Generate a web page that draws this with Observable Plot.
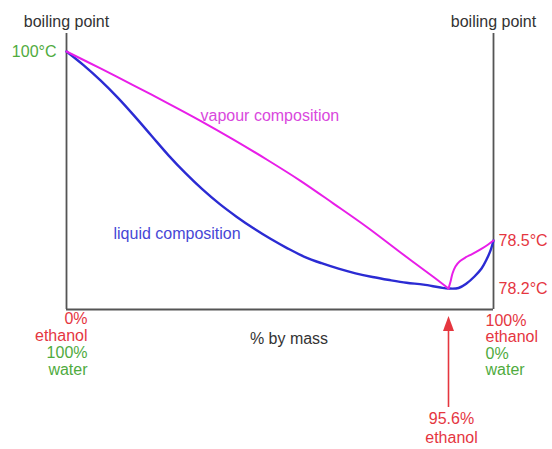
<!DOCTYPE html>
<html>
<head>
<meta charset="utf-8">
<script src="https://cdn.jsdelivr.net/npm/d3@7"></script>
<script src="https://cdn.jsdelivr.net/npm/@observablehq/plot@0.6"></script>
<style>
  html, body { margin: 0; padding: 0; background: #fff; }
  #chart svg { display: block; }
</style>
</head>
<body>
<div id="chart"></div>
<script>
// Schematic boiling-point diagram, ethanol / water (% ethanol by mass, °C)
const liquidPct  = [0, 4.25, 8.51, 12.76, 17.02, 21.27, 25.53, 29.78, 34.04, 38.29, 42.54, 46.80, 51.05, 55.31, 59.56, 63.82, 68.07, 72.33, 76.58, 80.83, 85.09, 89.34, 93.60, 95.6, 96.58, 97.36, 98.14, 98.83, 99.32, 99.71, 100];
const liquidTemp = [100, 98.45, 96.71, 94.78, 92.65, 90.42, 88.19, 86.16, 84.31, 82.66, 81.21, 79.89, 78.69, 78.451, 78.398, 78.358, 78.324, 78.295, 78.272, 78.253, 78.236, 78.224, 78.206, 78.2, 78.203, 78.231, 78.275, 78.325, 78.381, 78.438, 78.5];
const vapourPct  = [0, 8.51, 16.77, 25.28, 33.54, 41.79, 50.30, 58.56, 66.82, 75.33, 83.59, 91.85, 95.6, 95.80, 95.99, 96.28, 96.68, 97.26, 97.95, 98.73, 99.41, 100];
const vapourTemp = [100, 98.07, 96.15, 94.14, 92.12, 89.98, 87.66, 85.29, 82.70, 79.98, 78.425, 78.272, 78.2, 78.244, 78.294, 78.338, 78.369, 78.394, 78.416, 78.444, 78.472, 78.5];

const waterBoil = 100;      // °C at 0% ethanol
const ethanolBoil = 78.5;   // °C at 100% ethanol
const azeotropePct = 95.6;  // % ethanol
const azeotropeTemp = 78.2; // °C
const baseTemp = 78.0;      // schematic floor of the diagram

const xBreaks = [0, azeotropePct, 100];
const yBreaks = [baseTemp, azeotropeTemp, ethanolBoil, waterBoil];

const leftLabels  = ["0%", "ethanol", "100%", "water"];
const rightLabels = ["100%", "ethanol", "0%", "water"];
const azeotropeLabels = [azeotropePct + "%", "ethanol"];
const curveLabels = [
  {pct: 33.54, temp: 92.72, text: "vapour composition"},
  {pct: 11.76, temp: 79.30, text: "liquid composition"}
];

const liquid = liquidPct.map((p, i) => ({pct: p, temp: liquidTemp[i]}));
const vapour = vapourPct.map((p, i) => ({pct: p, temp: vapourTemp[i]}));
const cut = vapourPct.indexOf(azeotropePct);
const vapourLeft = vapour.slice(0, cut + 1);
const vapourRight = vapour.slice(cut);

const RED = "#e5363f", GREEN = "#4fab3e", GREY = "#333", AXIS = "#555";
const MAGENTA = "#e81ee8", BLUE = "#2b2bd3";

const tallTriangle = {
  draw(context, size) {
    const s = Math.sqrt(size / Math.PI);
    context.moveTo(0, -1.5 * s);
    context.lineTo(1.1 * s, 1.5 * s);
    context.lineTo(-1.1 * s, 1.5 * s);
    context.closePath();
  }
};

const marks = [
  Plot.ruleX([0, 100], {stroke: AXIS, strokeWidth: 1.8}),
  Plot.ruleY([baseTemp], {stroke: AXIS, strokeWidth: 2}),
  Plot.line(liquid, {x: "pct", y: "temp", stroke: BLUE, strokeWidth: 2.4, curve: "catmull-rom"}),
  Plot.line(vapourLeft, {x: "pct", y: "temp", stroke: MAGENTA, strokeWidth: 2, curve: "catmull-rom"}),
  Plot.line(vapourRight, {x: "pct", y: "temp", stroke: MAGENTA, strokeWidth: 2, curve: "catmull-rom"}),
  Plot.text([0, 100], {x: d => d, text: () => "boiling point", frameAnchor: "top", dy: -18, fill: GREY}),
  Plot.text([waterBoil], {x: () => 0, y: d => d, text: d => d + "°C", textAnchor: "end", dx: -10, fill: GREEN}),
  Plot.text([ethanolBoil, azeotropeTemp], {x: () => 100, y: d => d, text: d => d + "°C", textAnchor: "start", dx: 5, fill: RED}),
  Plot.text(curveLabels.slice(0, 1), {x: "pct", y: "temp", text: "text", textAnchor: "start", fill: "#d948dd"}),
  Plot.text(curveLabels.slice(1), {x: "pct", y: "temp", text: "text", textAnchor: "start", fill: "#4747d6"}),
  Plot.text(["% by mass"], {text: d => d, frameAnchor: "bottom", dx: 9, dy: 34, fill: GREY}),
  Plot.ruleX([azeotropePct], {x: d => d, stroke: RED, strokeWidth: 1.6, insetTop: 297, insetBottom: -98}),
  Plot.dot([azeotropePct], {x: d => d, frameAnchor: "bottom", dy: 14, r: 5, symbol: tallTriangle, fill: RED, stroke: "none"})
];
leftLabels.forEach((t, i) => marks.push(
  Plot.text([t], {x: () => 0, text: d => d, frameAnchor: "bottom", textAnchor: "end", dx: 21, dy: 14 + 17 * i, fill: i < 2 ? RED : GREEN})
));
rightLabels.forEach((t, i) => marks.push(
  Plot.text([t], {x: () => 100, text: d => d, frameAnchor: "bottom", textAnchor: "start", dx: -8, dy: 16 + 16.5 * i, fill: i < 2 ? RED : GREEN})
));
azeotropeLabels.forEach((t, i) => marks.push(
  Plot.text([t], {x: () => azeotropePct, text: d => d, frameAnchor: "bottom", dx: 3, dy: 114 + 19 * i, fill: RED})
));

const chart = Plot.plot({
  width: 552,
  height: 449,
  marginLeft: 66,
  marginRight: 59,
  marginTop: 33,
  marginBottom: 140,
  style: {fontFamily: "'Liberation Sans', Arial, Helvetica, sans-serif", fontSize: "16px", background: "#fff"},
  x: {type: "linear", domain: xBreaks, range: [66, 448, 493], axis: null},
  y: {type: "linear", domain: yBreaks, range: [309, 288, 240, 51], axis: null},
  marks
});
document.getElementById("chart").append(chart);
</script>
</body>
</html>
